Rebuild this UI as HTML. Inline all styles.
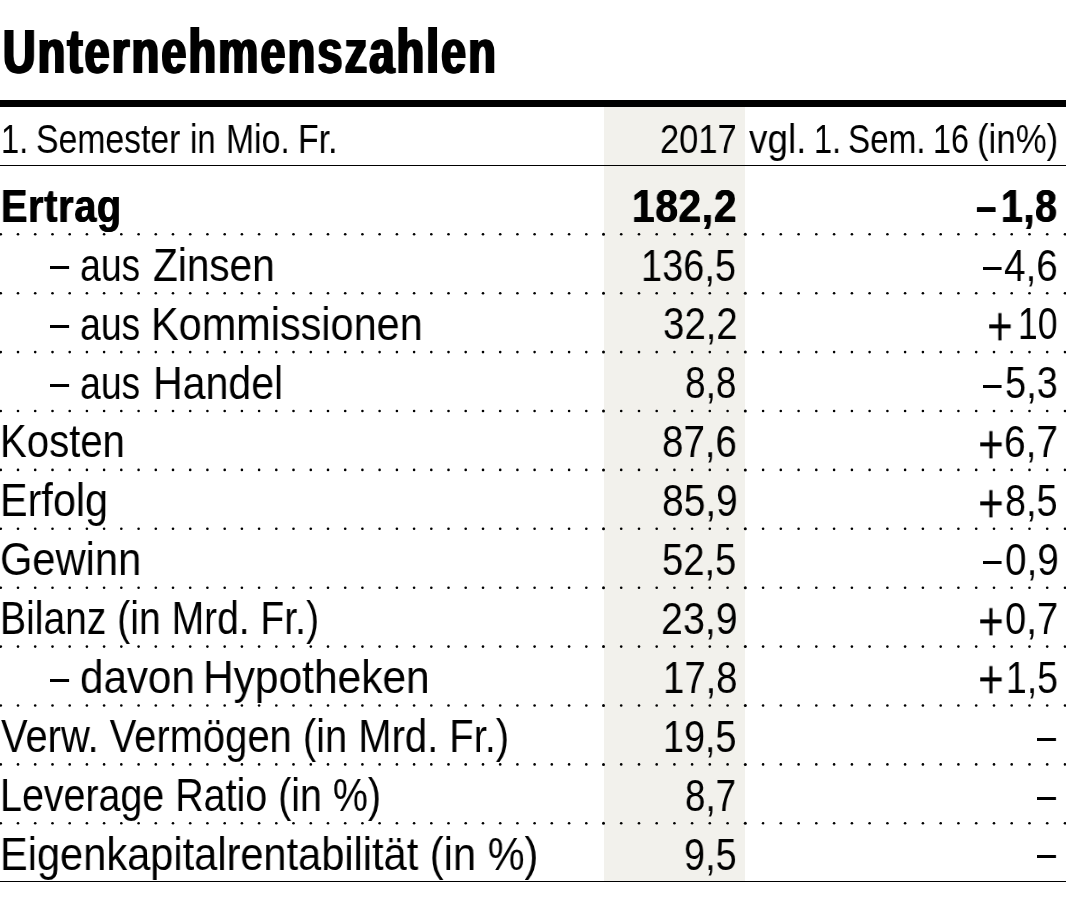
<!DOCTYPE html>
<html lang="de"><head><meta charset="utf-8"><title>Unternehmenszahlen</title>
<style>
html,body{margin:0;padding:0;background:#fff;}
body{width:1066px;height:906px;position:relative;overflow:hidden;font-family:"Liberation Sans",sans-serif;color:#000;}
.shade{position:absolute;left:604px;top:106px;width:141px;height:775.5px;background:#f2f1ec;}
.rule{position:absolute;left:0;width:1066px;background:#000;}
.t{will-change:transform;position:absolute;white-space:nowrap;line-height:1;transform-origin:0 0;margin:0;padding:0;}
.b{font-weight:bold;}
svg{position:absolute;left:0;top:0;}
</style></head><body>
<div class="shade"></div>
<div class="rule" style="top:100.1px;height:6.8px"></div>
<div class="rule" style="top:164.6px;height:1.5px"></div>
<div class="rule" style="top:880.65px;height:1.5px"></div>
<svg width="1066" height="906" viewBox="0 0 1066 906"><g fill="#000"><circle cx="0.8" cy="234.3" r="1.30"/><circle cx="18.0" cy="234.3" r="1.30"/><circle cx="35.2" cy="234.3" r="1.30"/><circle cx="52.5" cy="234.3" r="1.30"/><circle cx="69.7" cy="234.3" r="1.30"/><circle cx="86.9" cy="234.3" r="1.30"/><circle cx="104.1" cy="234.3" r="1.30"/><circle cx="121.3" cy="234.3" r="1.30"/><circle cx="138.6" cy="234.3" r="1.30"/><circle cx="155.8" cy="234.3" r="1.30"/><circle cx="173.0" cy="234.3" r="1.30"/><circle cx="190.2" cy="234.3" r="1.30"/><circle cx="207.4" cy="234.3" r="1.30"/><circle cx="224.7" cy="234.3" r="1.30"/><circle cx="241.9" cy="234.3" r="1.30"/><circle cx="259.1" cy="234.3" r="1.30"/><circle cx="276.3" cy="234.3" r="1.30"/><circle cx="293.5" cy="234.3" r="1.30"/><circle cx="310.8" cy="234.3" r="1.30"/><circle cx="328.0" cy="234.3" r="1.30"/><circle cx="345.2" cy="234.3" r="1.30"/><circle cx="362.4" cy="234.3" r="1.30"/><circle cx="379.6" cy="234.3" r="1.30"/><circle cx="396.9" cy="234.3" r="1.30"/><circle cx="414.1" cy="234.3" r="1.30"/><circle cx="431.3" cy="234.3" r="1.30"/><circle cx="448.5" cy="234.3" r="1.30"/><circle cx="465.7" cy="234.3" r="1.30"/><circle cx="483.0" cy="234.3" r="1.30"/><circle cx="500.2" cy="234.3" r="1.30"/><circle cx="517.4" cy="234.3" r="1.30"/><circle cx="534.6" cy="234.3" r="1.30"/><circle cx="551.8" cy="234.3" r="1.30"/><circle cx="569.1" cy="234.3" r="1.30"/><circle cx="586.3" cy="234.3" r="1.30"/><circle cx="603.5" cy="234.3" r="1.50"/><circle cx="621.2" cy="234.3" r="1.30"/><circle cx="639.0" cy="234.3" r="1.30"/><circle cx="656.7" cy="234.3" r="1.30"/><circle cx="674.4" cy="234.3" r="1.30"/><circle cx="692.1" cy="234.3" r="1.30"/><circle cx="709.8" cy="234.3" r="1.30"/><circle cx="727.6" cy="234.3" r="1.30"/><circle cx="745.3" cy="234.3" r="1.50"/><circle cx="763.1" cy="234.3" r="1.30"/><circle cx="780.8" cy="234.3" r="1.30"/><circle cx="798.6" cy="234.3" r="1.30"/><circle cx="816.3" cy="234.3" r="1.30"/><circle cx="834.1" cy="234.3" r="1.30"/><circle cx="851.9" cy="234.3" r="1.30"/><circle cx="869.6" cy="234.3" r="1.30"/><circle cx="887.4" cy="234.3" r="1.30"/><circle cx="905.1" cy="234.3" r="1.30"/><circle cx="922.9" cy="234.3" r="1.30"/><circle cx="940.7" cy="234.3" r="1.30"/><circle cx="958.4" cy="234.3" r="1.30"/><circle cx="976.2" cy="234.3" r="1.30"/><circle cx="994.0" cy="234.3" r="1.30"/><circle cx="1011.7" cy="234.3" r="1.30"/><circle cx="1029.5" cy="234.3" r="1.30"/><circle cx="1047.2" cy="234.3" r="1.30"/><circle cx="1065.0" cy="234.3" r="1.30"/><circle cx="0.8" cy="293.2" r="1.30"/><circle cx="18.0" cy="293.2" r="1.30"/><circle cx="35.2" cy="293.2" r="1.30"/><circle cx="52.5" cy="293.2" r="1.30"/><circle cx="69.7" cy="293.2" r="1.30"/><circle cx="86.9" cy="293.2" r="1.30"/><circle cx="104.1" cy="293.2" r="1.30"/><circle cx="121.3" cy="293.2" r="1.30"/><circle cx="138.6" cy="293.2" r="1.30"/><circle cx="155.8" cy="293.2" r="1.30"/><circle cx="173.0" cy="293.2" r="1.30"/><circle cx="190.2" cy="293.2" r="1.30"/><circle cx="207.4" cy="293.2" r="1.30"/><circle cx="224.7" cy="293.2" r="1.30"/><circle cx="241.9" cy="293.2" r="1.30"/><circle cx="259.1" cy="293.2" r="1.30"/><circle cx="276.3" cy="293.2" r="1.30"/><circle cx="293.5" cy="293.2" r="1.30"/><circle cx="310.8" cy="293.2" r="1.30"/><circle cx="328.0" cy="293.2" r="1.30"/><circle cx="345.2" cy="293.2" r="1.30"/><circle cx="362.4" cy="293.2" r="1.30"/><circle cx="379.6" cy="293.2" r="1.30"/><circle cx="396.9" cy="293.2" r="1.30"/><circle cx="414.1" cy="293.2" r="1.30"/><circle cx="431.3" cy="293.2" r="1.30"/><circle cx="448.5" cy="293.2" r="1.30"/><circle cx="465.7" cy="293.2" r="1.30"/><circle cx="483.0" cy="293.2" r="1.30"/><circle cx="500.2" cy="293.2" r="1.30"/><circle cx="517.4" cy="293.2" r="1.30"/><circle cx="534.6" cy="293.2" r="1.30"/><circle cx="551.8" cy="293.2" r="1.30"/><circle cx="569.1" cy="293.2" r="1.30"/><circle cx="586.3" cy="293.2" r="1.30"/><circle cx="603.5" cy="293.2" r="1.50"/><circle cx="621.2" cy="293.2" r="1.30"/><circle cx="639.0" cy="293.2" r="1.30"/><circle cx="656.7" cy="293.2" r="1.30"/><circle cx="674.4" cy="293.2" r="1.30"/><circle cx="692.1" cy="293.2" r="1.30"/><circle cx="709.8" cy="293.2" r="1.30"/><circle cx="727.6" cy="293.2" r="1.30"/><circle cx="745.3" cy="293.2" r="1.50"/><circle cx="763.1" cy="293.2" r="1.30"/><circle cx="780.8" cy="293.2" r="1.30"/><circle cx="798.6" cy="293.2" r="1.30"/><circle cx="816.3" cy="293.2" r="1.30"/><circle cx="834.1" cy="293.2" r="1.30"/><circle cx="851.9" cy="293.2" r="1.30"/><circle cx="869.6" cy="293.2" r="1.30"/><circle cx="887.4" cy="293.2" r="1.30"/><circle cx="905.1" cy="293.2" r="1.30"/><circle cx="922.9" cy="293.2" r="1.30"/><circle cx="940.7" cy="293.2" r="1.30"/><circle cx="958.4" cy="293.2" r="1.30"/><circle cx="976.2" cy="293.2" r="1.30"/><circle cx="994.0" cy="293.2" r="1.30"/><circle cx="1011.7" cy="293.2" r="1.30"/><circle cx="1029.5" cy="293.2" r="1.30"/><circle cx="1047.2" cy="293.2" r="1.30"/><circle cx="1065.0" cy="293.2" r="1.30"/><circle cx="0.8" cy="352.1" r="1.30"/><circle cx="18.0" cy="352.1" r="1.30"/><circle cx="35.2" cy="352.1" r="1.30"/><circle cx="52.5" cy="352.1" r="1.30"/><circle cx="69.7" cy="352.1" r="1.30"/><circle cx="86.9" cy="352.1" r="1.30"/><circle cx="104.1" cy="352.1" r="1.30"/><circle cx="121.3" cy="352.1" r="1.30"/><circle cx="138.6" cy="352.1" r="1.30"/><circle cx="155.8" cy="352.1" r="1.30"/><circle cx="173.0" cy="352.1" r="1.30"/><circle cx="190.2" cy="352.1" r="1.30"/><circle cx="207.4" cy="352.1" r="1.30"/><circle cx="224.7" cy="352.1" r="1.30"/><circle cx="241.9" cy="352.1" r="1.30"/><circle cx="259.1" cy="352.1" r="1.30"/><circle cx="276.3" cy="352.1" r="1.30"/><circle cx="293.5" cy="352.1" r="1.30"/><circle cx="310.8" cy="352.1" r="1.30"/><circle cx="328.0" cy="352.1" r="1.30"/><circle cx="345.2" cy="352.1" r="1.30"/><circle cx="362.4" cy="352.1" r="1.30"/><circle cx="379.6" cy="352.1" r="1.30"/><circle cx="396.9" cy="352.1" r="1.30"/><circle cx="414.1" cy="352.1" r="1.30"/><circle cx="431.3" cy="352.1" r="1.30"/><circle cx="448.5" cy="352.1" r="1.30"/><circle cx="465.7" cy="352.1" r="1.30"/><circle cx="483.0" cy="352.1" r="1.30"/><circle cx="500.2" cy="352.1" r="1.30"/><circle cx="517.4" cy="352.1" r="1.30"/><circle cx="534.6" cy="352.1" r="1.30"/><circle cx="551.8" cy="352.1" r="1.30"/><circle cx="569.1" cy="352.1" r="1.30"/><circle cx="586.3" cy="352.1" r="1.30"/><circle cx="603.5" cy="352.1" r="1.50"/><circle cx="621.2" cy="352.1" r="1.30"/><circle cx="639.0" cy="352.1" r="1.30"/><circle cx="656.7" cy="352.1" r="1.30"/><circle cx="674.4" cy="352.1" r="1.30"/><circle cx="692.1" cy="352.1" r="1.30"/><circle cx="709.8" cy="352.1" r="1.30"/><circle cx="727.6" cy="352.1" r="1.30"/><circle cx="745.3" cy="352.1" r="1.50"/><circle cx="763.1" cy="352.1" r="1.30"/><circle cx="780.8" cy="352.1" r="1.30"/><circle cx="798.6" cy="352.1" r="1.30"/><circle cx="816.3" cy="352.1" r="1.30"/><circle cx="834.1" cy="352.1" r="1.30"/><circle cx="851.9" cy="352.1" r="1.30"/><circle cx="869.6" cy="352.1" r="1.30"/><circle cx="887.4" cy="352.1" r="1.30"/><circle cx="905.1" cy="352.1" r="1.30"/><circle cx="922.9" cy="352.1" r="1.30"/><circle cx="940.7" cy="352.1" r="1.30"/><circle cx="958.4" cy="352.1" r="1.30"/><circle cx="976.2" cy="352.1" r="1.30"/><circle cx="994.0" cy="352.1" r="1.30"/><circle cx="1011.7" cy="352.1" r="1.30"/><circle cx="1029.5" cy="352.1" r="1.30"/><circle cx="1047.2" cy="352.1" r="1.30"/><circle cx="1065.0" cy="352.1" r="1.30"/><circle cx="0.8" cy="411.0" r="1.30"/><circle cx="18.0" cy="411.0" r="1.30"/><circle cx="35.2" cy="411.0" r="1.30"/><circle cx="52.5" cy="411.0" r="1.30"/><circle cx="69.7" cy="411.0" r="1.30"/><circle cx="86.9" cy="411.0" r="1.30"/><circle cx="104.1" cy="411.0" r="1.30"/><circle cx="121.3" cy="411.0" r="1.30"/><circle cx="138.6" cy="411.0" r="1.30"/><circle cx="155.8" cy="411.0" r="1.30"/><circle cx="173.0" cy="411.0" r="1.30"/><circle cx="190.2" cy="411.0" r="1.30"/><circle cx="207.4" cy="411.0" r="1.30"/><circle cx="224.7" cy="411.0" r="1.30"/><circle cx="241.9" cy="411.0" r="1.30"/><circle cx="259.1" cy="411.0" r="1.30"/><circle cx="276.3" cy="411.0" r="1.30"/><circle cx="293.5" cy="411.0" r="1.30"/><circle cx="310.8" cy="411.0" r="1.30"/><circle cx="328.0" cy="411.0" r="1.30"/><circle cx="345.2" cy="411.0" r="1.30"/><circle cx="362.4" cy="411.0" r="1.30"/><circle cx="379.6" cy="411.0" r="1.30"/><circle cx="396.9" cy="411.0" r="1.30"/><circle cx="414.1" cy="411.0" r="1.30"/><circle cx="431.3" cy="411.0" r="1.30"/><circle cx="448.5" cy="411.0" r="1.30"/><circle cx="465.7" cy="411.0" r="1.30"/><circle cx="483.0" cy="411.0" r="1.30"/><circle cx="500.2" cy="411.0" r="1.30"/><circle cx="517.4" cy="411.0" r="1.30"/><circle cx="534.6" cy="411.0" r="1.30"/><circle cx="551.8" cy="411.0" r="1.30"/><circle cx="569.1" cy="411.0" r="1.30"/><circle cx="586.3" cy="411.0" r="1.30"/><circle cx="603.5" cy="411.0" r="1.50"/><circle cx="621.2" cy="411.0" r="1.30"/><circle cx="639.0" cy="411.0" r="1.30"/><circle cx="656.7" cy="411.0" r="1.30"/><circle cx="674.4" cy="411.0" r="1.30"/><circle cx="692.1" cy="411.0" r="1.30"/><circle cx="709.8" cy="411.0" r="1.30"/><circle cx="727.6" cy="411.0" r="1.30"/><circle cx="745.3" cy="411.0" r="1.50"/><circle cx="763.1" cy="411.0" r="1.30"/><circle cx="780.8" cy="411.0" r="1.30"/><circle cx="798.6" cy="411.0" r="1.30"/><circle cx="816.3" cy="411.0" r="1.30"/><circle cx="834.1" cy="411.0" r="1.30"/><circle cx="851.9" cy="411.0" r="1.30"/><circle cx="869.6" cy="411.0" r="1.30"/><circle cx="887.4" cy="411.0" r="1.30"/><circle cx="905.1" cy="411.0" r="1.30"/><circle cx="922.9" cy="411.0" r="1.30"/><circle cx="940.7" cy="411.0" r="1.30"/><circle cx="958.4" cy="411.0" r="1.30"/><circle cx="976.2" cy="411.0" r="1.30"/><circle cx="994.0" cy="411.0" r="1.30"/><circle cx="1011.7" cy="411.0" r="1.30"/><circle cx="1029.5" cy="411.0" r="1.30"/><circle cx="1047.2" cy="411.0" r="1.30"/><circle cx="1065.0" cy="411.0" r="1.30"/><circle cx="0.8" cy="469.9" r="1.30"/><circle cx="18.0" cy="469.9" r="1.30"/><circle cx="35.2" cy="469.9" r="1.30"/><circle cx="52.5" cy="469.9" r="1.30"/><circle cx="69.7" cy="469.9" r="1.30"/><circle cx="86.9" cy="469.9" r="1.30"/><circle cx="104.1" cy="469.9" r="1.30"/><circle cx="121.3" cy="469.9" r="1.30"/><circle cx="138.6" cy="469.9" r="1.30"/><circle cx="155.8" cy="469.9" r="1.30"/><circle cx="173.0" cy="469.9" r="1.30"/><circle cx="190.2" cy="469.9" r="1.30"/><circle cx="207.4" cy="469.9" r="1.30"/><circle cx="224.7" cy="469.9" r="1.30"/><circle cx="241.9" cy="469.9" r="1.30"/><circle cx="259.1" cy="469.9" r="1.30"/><circle cx="276.3" cy="469.9" r="1.30"/><circle cx="293.5" cy="469.9" r="1.30"/><circle cx="310.8" cy="469.9" r="1.30"/><circle cx="328.0" cy="469.9" r="1.30"/><circle cx="345.2" cy="469.9" r="1.30"/><circle cx="362.4" cy="469.9" r="1.30"/><circle cx="379.6" cy="469.9" r="1.30"/><circle cx="396.9" cy="469.9" r="1.30"/><circle cx="414.1" cy="469.9" r="1.30"/><circle cx="431.3" cy="469.9" r="1.30"/><circle cx="448.5" cy="469.9" r="1.30"/><circle cx="465.7" cy="469.9" r="1.30"/><circle cx="483.0" cy="469.9" r="1.30"/><circle cx="500.2" cy="469.9" r="1.30"/><circle cx="517.4" cy="469.9" r="1.30"/><circle cx="534.6" cy="469.9" r="1.30"/><circle cx="551.8" cy="469.9" r="1.30"/><circle cx="569.1" cy="469.9" r="1.30"/><circle cx="586.3" cy="469.9" r="1.30"/><circle cx="603.5" cy="469.9" r="1.50"/><circle cx="621.2" cy="469.9" r="1.30"/><circle cx="639.0" cy="469.9" r="1.30"/><circle cx="656.7" cy="469.9" r="1.30"/><circle cx="674.4" cy="469.9" r="1.30"/><circle cx="692.1" cy="469.9" r="1.30"/><circle cx="709.8" cy="469.9" r="1.30"/><circle cx="727.6" cy="469.9" r="1.30"/><circle cx="745.3" cy="469.9" r="1.50"/><circle cx="763.1" cy="469.9" r="1.30"/><circle cx="780.8" cy="469.9" r="1.30"/><circle cx="798.6" cy="469.9" r="1.30"/><circle cx="816.3" cy="469.9" r="1.30"/><circle cx="834.1" cy="469.9" r="1.30"/><circle cx="851.9" cy="469.9" r="1.30"/><circle cx="869.6" cy="469.9" r="1.30"/><circle cx="887.4" cy="469.9" r="1.30"/><circle cx="905.1" cy="469.9" r="1.30"/><circle cx="922.9" cy="469.9" r="1.30"/><circle cx="940.7" cy="469.9" r="1.30"/><circle cx="958.4" cy="469.9" r="1.30"/><circle cx="976.2" cy="469.9" r="1.30"/><circle cx="994.0" cy="469.9" r="1.30"/><circle cx="1011.7" cy="469.9" r="1.30"/><circle cx="1029.5" cy="469.9" r="1.30"/><circle cx="1047.2" cy="469.9" r="1.30"/><circle cx="1065.0" cy="469.9" r="1.30"/><circle cx="0.8" cy="528.8" r="1.30"/><circle cx="18.0" cy="528.8" r="1.30"/><circle cx="35.2" cy="528.8" r="1.30"/><circle cx="52.5" cy="528.8" r="1.30"/><circle cx="69.7" cy="528.8" r="1.30"/><circle cx="86.9" cy="528.8" r="1.30"/><circle cx="104.1" cy="528.8" r="1.30"/><circle cx="121.3" cy="528.8" r="1.30"/><circle cx="138.6" cy="528.8" r="1.30"/><circle cx="155.8" cy="528.8" r="1.30"/><circle cx="173.0" cy="528.8" r="1.30"/><circle cx="190.2" cy="528.8" r="1.30"/><circle cx="207.4" cy="528.8" r="1.30"/><circle cx="224.7" cy="528.8" r="1.30"/><circle cx="241.9" cy="528.8" r="1.30"/><circle cx="259.1" cy="528.8" r="1.30"/><circle cx="276.3" cy="528.8" r="1.30"/><circle cx="293.5" cy="528.8" r="1.30"/><circle cx="310.8" cy="528.8" r="1.30"/><circle cx="328.0" cy="528.8" r="1.30"/><circle cx="345.2" cy="528.8" r="1.30"/><circle cx="362.4" cy="528.8" r="1.30"/><circle cx="379.6" cy="528.8" r="1.30"/><circle cx="396.9" cy="528.8" r="1.30"/><circle cx="414.1" cy="528.8" r="1.30"/><circle cx="431.3" cy="528.8" r="1.30"/><circle cx="448.5" cy="528.8" r="1.30"/><circle cx="465.7" cy="528.8" r="1.30"/><circle cx="483.0" cy="528.8" r="1.30"/><circle cx="500.2" cy="528.8" r="1.30"/><circle cx="517.4" cy="528.8" r="1.30"/><circle cx="534.6" cy="528.8" r="1.30"/><circle cx="551.8" cy="528.8" r="1.30"/><circle cx="569.1" cy="528.8" r="1.30"/><circle cx="586.3" cy="528.8" r="1.30"/><circle cx="603.5" cy="528.8" r="1.50"/><circle cx="621.2" cy="528.8" r="1.30"/><circle cx="639.0" cy="528.8" r="1.30"/><circle cx="656.7" cy="528.8" r="1.30"/><circle cx="674.4" cy="528.8" r="1.30"/><circle cx="692.1" cy="528.8" r="1.30"/><circle cx="709.8" cy="528.8" r="1.30"/><circle cx="727.6" cy="528.8" r="1.30"/><circle cx="745.3" cy="528.8" r="1.50"/><circle cx="763.1" cy="528.8" r="1.30"/><circle cx="780.8" cy="528.8" r="1.30"/><circle cx="798.6" cy="528.8" r="1.30"/><circle cx="816.3" cy="528.8" r="1.30"/><circle cx="834.1" cy="528.8" r="1.30"/><circle cx="851.9" cy="528.8" r="1.30"/><circle cx="869.6" cy="528.8" r="1.30"/><circle cx="887.4" cy="528.8" r="1.30"/><circle cx="905.1" cy="528.8" r="1.30"/><circle cx="922.9" cy="528.8" r="1.30"/><circle cx="940.7" cy="528.8" r="1.30"/><circle cx="958.4" cy="528.8" r="1.30"/><circle cx="976.2" cy="528.8" r="1.30"/><circle cx="994.0" cy="528.8" r="1.30"/><circle cx="1011.7" cy="528.8" r="1.30"/><circle cx="1029.5" cy="528.8" r="1.30"/><circle cx="1047.2" cy="528.8" r="1.30"/><circle cx="1065.0" cy="528.8" r="1.30"/><circle cx="0.8" cy="587.7" r="1.30"/><circle cx="18.0" cy="587.7" r="1.30"/><circle cx="35.2" cy="587.7" r="1.30"/><circle cx="52.5" cy="587.7" r="1.30"/><circle cx="69.7" cy="587.7" r="1.30"/><circle cx="86.9" cy="587.7" r="1.30"/><circle cx="104.1" cy="587.7" r="1.30"/><circle cx="121.3" cy="587.7" r="1.30"/><circle cx="138.6" cy="587.7" r="1.30"/><circle cx="155.8" cy="587.7" r="1.30"/><circle cx="173.0" cy="587.7" r="1.30"/><circle cx="190.2" cy="587.7" r="1.30"/><circle cx="207.4" cy="587.7" r="1.30"/><circle cx="224.7" cy="587.7" r="1.30"/><circle cx="241.9" cy="587.7" r="1.30"/><circle cx="259.1" cy="587.7" r="1.30"/><circle cx="276.3" cy="587.7" r="1.30"/><circle cx="293.5" cy="587.7" r="1.30"/><circle cx="310.8" cy="587.7" r="1.30"/><circle cx="328.0" cy="587.7" r="1.30"/><circle cx="345.2" cy="587.7" r="1.30"/><circle cx="362.4" cy="587.7" r="1.30"/><circle cx="379.6" cy="587.7" r="1.30"/><circle cx="396.9" cy="587.7" r="1.30"/><circle cx="414.1" cy="587.7" r="1.30"/><circle cx="431.3" cy="587.7" r="1.30"/><circle cx="448.5" cy="587.7" r="1.30"/><circle cx="465.7" cy="587.7" r="1.30"/><circle cx="483.0" cy="587.7" r="1.30"/><circle cx="500.2" cy="587.7" r="1.30"/><circle cx="517.4" cy="587.7" r="1.30"/><circle cx="534.6" cy="587.7" r="1.30"/><circle cx="551.8" cy="587.7" r="1.30"/><circle cx="569.1" cy="587.7" r="1.30"/><circle cx="586.3" cy="587.7" r="1.30"/><circle cx="603.5" cy="587.7" r="1.50"/><circle cx="621.2" cy="587.7" r="1.30"/><circle cx="639.0" cy="587.7" r="1.30"/><circle cx="656.7" cy="587.7" r="1.30"/><circle cx="674.4" cy="587.7" r="1.30"/><circle cx="692.1" cy="587.7" r="1.30"/><circle cx="709.8" cy="587.7" r="1.30"/><circle cx="727.6" cy="587.7" r="1.30"/><circle cx="745.3" cy="587.7" r="1.50"/><circle cx="763.1" cy="587.7" r="1.30"/><circle cx="780.8" cy="587.7" r="1.30"/><circle cx="798.6" cy="587.7" r="1.30"/><circle cx="816.3" cy="587.7" r="1.30"/><circle cx="834.1" cy="587.7" r="1.30"/><circle cx="851.9" cy="587.7" r="1.30"/><circle cx="869.6" cy="587.7" r="1.30"/><circle cx="887.4" cy="587.7" r="1.30"/><circle cx="905.1" cy="587.7" r="1.30"/><circle cx="922.9" cy="587.7" r="1.30"/><circle cx="940.7" cy="587.7" r="1.30"/><circle cx="958.4" cy="587.7" r="1.30"/><circle cx="976.2" cy="587.7" r="1.30"/><circle cx="994.0" cy="587.7" r="1.30"/><circle cx="1011.7" cy="587.7" r="1.30"/><circle cx="1029.5" cy="587.7" r="1.30"/><circle cx="1047.2" cy="587.7" r="1.30"/><circle cx="1065.0" cy="587.7" r="1.30"/><circle cx="0.8" cy="646.6" r="1.30"/><circle cx="18.0" cy="646.6" r="1.30"/><circle cx="35.2" cy="646.6" r="1.30"/><circle cx="52.5" cy="646.6" r="1.30"/><circle cx="69.7" cy="646.6" r="1.30"/><circle cx="86.9" cy="646.6" r="1.30"/><circle cx="104.1" cy="646.6" r="1.30"/><circle cx="121.3" cy="646.6" r="1.30"/><circle cx="138.6" cy="646.6" r="1.30"/><circle cx="155.8" cy="646.6" r="1.30"/><circle cx="173.0" cy="646.6" r="1.30"/><circle cx="190.2" cy="646.6" r="1.30"/><circle cx="207.4" cy="646.6" r="1.30"/><circle cx="224.7" cy="646.6" r="1.30"/><circle cx="241.9" cy="646.6" r="1.30"/><circle cx="259.1" cy="646.6" r="1.30"/><circle cx="276.3" cy="646.6" r="1.30"/><circle cx="293.5" cy="646.6" r="1.30"/><circle cx="310.8" cy="646.6" r="1.30"/><circle cx="328.0" cy="646.6" r="1.30"/><circle cx="345.2" cy="646.6" r="1.30"/><circle cx="362.4" cy="646.6" r="1.30"/><circle cx="379.6" cy="646.6" r="1.30"/><circle cx="396.9" cy="646.6" r="1.30"/><circle cx="414.1" cy="646.6" r="1.30"/><circle cx="431.3" cy="646.6" r="1.30"/><circle cx="448.5" cy="646.6" r="1.30"/><circle cx="465.7" cy="646.6" r="1.30"/><circle cx="483.0" cy="646.6" r="1.30"/><circle cx="500.2" cy="646.6" r="1.30"/><circle cx="517.4" cy="646.6" r="1.30"/><circle cx="534.6" cy="646.6" r="1.30"/><circle cx="551.8" cy="646.6" r="1.30"/><circle cx="569.1" cy="646.6" r="1.30"/><circle cx="586.3" cy="646.6" r="1.30"/><circle cx="603.5" cy="646.6" r="1.50"/><circle cx="621.2" cy="646.6" r="1.30"/><circle cx="639.0" cy="646.6" r="1.30"/><circle cx="656.7" cy="646.6" r="1.30"/><circle cx="674.4" cy="646.6" r="1.30"/><circle cx="692.1" cy="646.6" r="1.30"/><circle cx="709.8" cy="646.6" r="1.30"/><circle cx="727.6" cy="646.6" r="1.30"/><circle cx="745.3" cy="646.6" r="1.50"/><circle cx="763.1" cy="646.6" r="1.30"/><circle cx="780.8" cy="646.6" r="1.30"/><circle cx="798.6" cy="646.6" r="1.30"/><circle cx="816.3" cy="646.6" r="1.30"/><circle cx="834.1" cy="646.6" r="1.30"/><circle cx="851.9" cy="646.6" r="1.30"/><circle cx="869.6" cy="646.6" r="1.30"/><circle cx="887.4" cy="646.6" r="1.30"/><circle cx="905.1" cy="646.6" r="1.30"/><circle cx="922.9" cy="646.6" r="1.30"/><circle cx="940.7" cy="646.6" r="1.30"/><circle cx="958.4" cy="646.6" r="1.30"/><circle cx="976.2" cy="646.6" r="1.30"/><circle cx="994.0" cy="646.6" r="1.30"/><circle cx="1011.7" cy="646.6" r="1.30"/><circle cx="1029.5" cy="646.6" r="1.30"/><circle cx="1047.2" cy="646.6" r="1.30"/><circle cx="1065.0" cy="646.6" r="1.30"/><circle cx="0.8" cy="705.5" r="1.30"/><circle cx="18.0" cy="705.5" r="1.30"/><circle cx="35.2" cy="705.5" r="1.30"/><circle cx="52.5" cy="705.5" r="1.30"/><circle cx="69.7" cy="705.5" r="1.30"/><circle cx="86.9" cy="705.5" r="1.30"/><circle cx="104.1" cy="705.5" r="1.30"/><circle cx="121.3" cy="705.5" r="1.30"/><circle cx="138.6" cy="705.5" r="1.30"/><circle cx="155.8" cy="705.5" r="1.30"/><circle cx="173.0" cy="705.5" r="1.30"/><circle cx="190.2" cy="705.5" r="1.30"/><circle cx="207.4" cy="705.5" r="1.30"/><circle cx="224.7" cy="705.5" r="1.30"/><circle cx="241.9" cy="705.5" r="1.30"/><circle cx="259.1" cy="705.5" r="1.30"/><circle cx="276.3" cy="705.5" r="1.30"/><circle cx="293.5" cy="705.5" r="1.30"/><circle cx="310.8" cy="705.5" r="1.30"/><circle cx="328.0" cy="705.5" r="1.30"/><circle cx="345.2" cy="705.5" r="1.30"/><circle cx="362.4" cy="705.5" r="1.30"/><circle cx="379.6" cy="705.5" r="1.30"/><circle cx="396.9" cy="705.5" r="1.30"/><circle cx="414.1" cy="705.5" r="1.30"/><circle cx="431.3" cy="705.5" r="1.30"/><circle cx="448.5" cy="705.5" r="1.30"/><circle cx="465.7" cy="705.5" r="1.30"/><circle cx="483.0" cy="705.5" r="1.30"/><circle cx="500.2" cy="705.5" r="1.30"/><circle cx="517.4" cy="705.5" r="1.30"/><circle cx="534.6" cy="705.5" r="1.30"/><circle cx="551.8" cy="705.5" r="1.30"/><circle cx="569.1" cy="705.5" r="1.30"/><circle cx="586.3" cy="705.5" r="1.30"/><circle cx="603.5" cy="705.5" r="1.50"/><circle cx="621.2" cy="705.5" r="1.30"/><circle cx="639.0" cy="705.5" r="1.30"/><circle cx="656.7" cy="705.5" r="1.30"/><circle cx="674.4" cy="705.5" r="1.30"/><circle cx="692.1" cy="705.5" r="1.30"/><circle cx="709.8" cy="705.5" r="1.30"/><circle cx="727.6" cy="705.5" r="1.30"/><circle cx="745.3" cy="705.5" r="1.50"/><circle cx="763.1" cy="705.5" r="1.30"/><circle cx="780.8" cy="705.5" r="1.30"/><circle cx="798.6" cy="705.5" r="1.30"/><circle cx="816.3" cy="705.5" r="1.30"/><circle cx="834.1" cy="705.5" r="1.30"/><circle cx="851.9" cy="705.5" r="1.30"/><circle cx="869.6" cy="705.5" r="1.30"/><circle cx="887.4" cy="705.5" r="1.30"/><circle cx="905.1" cy="705.5" r="1.30"/><circle cx="922.9" cy="705.5" r="1.30"/><circle cx="940.7" cy="705.5" r="1.30"/><circle cx="958.4" cy="705.5" r="1.30"/><circle cx="976.2" cy="705.5" r="1.30"/><circle cx="994.0" cy="705.5" r="1.30"/><circle cx="1011.7" cy="705.5" r="1.30"/><circle cx="1029.5" cy="705.5" r="1.30"/><circle cx="1047.2" cy="705.5" r="1.30"/><circle cx="1065.0" cy="705.5" r="1.30"/><circle cx="0.8" cy="764.4" r="1.30"/><circle cx="18.0" cy="764.4" r="1.30"/><circle cx="35.2" cy="764.4" r="1.30"/><circle cx="52.5" cy="764.4" r="1.30"/><circle cx="69.7" cy="764.4" r="1.30"/><circle cx="86.9" cy="764.4" r="1.30"/><circle cx="104.1" cy="764.4" r="1.30"/><circle cx="121.3" cy="764.4" r="1.30"/><circle cx="138.6" cy="764.4" r="1.30"/><circle cx="155.8" cy="764.4" r="1.30"/><circle cx="173.0" cy="764.4" r="1.30"/><circle cx="190.2" cy="764.4" r="1.30"/><circle cx="207.4" cy="764.4" r="1.30"/><circle cx="224.7" cy="764.4" r="1.30"/><circle cx="241.9" cy="764.4" r="1.30"/><circle cx="259.1" cy="764.4" r="1.30"/><circle cx="276.3" cy="764.4" r="1.30"/><circle cx="293.5" cy="764.4" r="1.30"/><circle cx="310.8" cy="764.4" r="1.30"/><circle cx="328.0" cy="764.4" r="1.30"/><circle cx="345.2" cy="764.4" r="1.30"/><circle cx="362.4" cy="764.4" r="1.30"/><circle cx="379.6" cy="764.4" r="1.30"/><circle cx="396.9" cy="764.4" r="1.30"/><circle cx="414.1" cy="764.4" r="1.30"/><circle cx="431.3" cy="764.4" r="1.30"/><circle cx="448.5" cy="764.4" r="1.30"/><circle cx="465.7" cy="764.4" r="1.30"/><circle cx="483.0" cy="764.4" r="1.30"/><circle cx="500.2" cy="764.4" r="1.30"/><circle cx="517.4" cy="764.4" r="1.30"/><circle cx="534.6" cy="764.4" r="1.30"/><circle cx="551.8" cy="764.4" r="1.30"/><circle cx="569.1" cy="764.4" r="1.30"/><circle cx="586.3" cy="764.4" r="1.30"/><circle cx="603.5" cy="764.4" r="1.50"/><circle cx="621.2" cy="764.4" r="1.30"/><circle cx="639.0" cy="764.4" r="1.30"/><circle cx="656.7" cy="764.4" r="1.30"/><circle cx="674.4" cy="764.4" r="1.30"/><circle cx="692.1" cy="764.4" r="1.30"/><circle cx="709.8" cy="764.4" r="1.30"/><circle cx="727.6" cy="764.4" r="1.30"/><circle cx="745.3" cy="764.4" r="1.50"/><circle cx="763.1" cy="764.4" r="1.30"/><circle cx="780.8" cy="764.4" r="1.30"/><circle cx="798.6" cy="764.4" r="1.30"/><circle cx="816.3" cy="764.4" r="1.30"/><circle cx="834.1" cy="764.4" r="1.30"/><circle cx="851.9" cy="764.4" r="1.30"/><circle cx="869.6" cy="764.4" r="1.30"/><circle cx="887.4" cy="764.4" r="1.30"/><circle cx="905.1" cy="764.4" r="1.30"/><circle cx="922.9" cy="764.4" r="1.30"/><circle cx="940.7" cy="764.4" r="1.30"/><circle cx="958.4" cy="764.4" r="1.30"/><circle cx="976.2" cy="764.4" r="1.30"/><circle cx="994.0" cy="764.4" r="1.30"/><circle cx="1011.7" cy="764.4" r="1.30"/><circle cx="1029.5" cy="764.4" r="1.30"/><circle cx="1047.2" cy="764.4" r="1.30"/><circle cx="1065.0" cy="764.4" r="1.30"/><circle cx="0.8" cy="823.3" r="1.30"/><circle cx="18.0" cy="823.3" r="1.30"/><circle cx="35.2" cy="823.3" r="1.30"/><circle cx="52.5" cy="823.3" r="1.30"/><circle cx="69.7" cy="823.3" r="1.30"/><circle cx="86.9" cy="823.3" r="1.30"/><circle cx="104.1" cy="823.3" r="1.30"/><circle cx="121.3" cy="823.3" r="1.30"/><circle cx="138.6" cy="823.3" r="1.30"/><circle cx="155.8" cy="823.3" r="1.30"/><circle cx="173.0" cy="823.3" r="1.30"/><circle cx="190.2" cy="823.3" r="1.30"/><circle cx="207.4" cy="823.3" r="1.30"/><circle cx="224.7" cy="823.3" r="1.30"/><circle cx="241.9" cy="823.3" r="1.30"/><circle cx="259.1" cy="823.3" r="1.30"/><circle cx="276.3" cy="823.3" r="1.30"/><circle cx="293.5" cy="823.3" r="1.30"/><circle cx="310.8" cy="823.3" r="1.30"/><circle cx="328.0" cy="823.3" r="1.30"/><circle cx="345.2" cy="823.3" r="1.30"/><circle cx="362.4" cy="823.3" r="1.30"/><circle cx="379.6" cy="823.3" r="1.30"/><circle cx="396.9" cy="823.3" r="1.30"/><circle cx="414.1" cy="823.3" r="1.30"/><circle cx="431.3" cy="823.3" r="1.30"/><circle cx="448.5" cy="823.3" r="1.30"/><circle cx="465.7" cy="823.3" r="1.30"/><circle cx="483.0" cy="823.3" r="1.30"/><circle cx="500.2" cy="823.3" r="1.30"/><circle cx="517.4" cy="823.3" r="1.30"/><circle cx="534.6" cy="823.3" r="1.30"/><circle cx="551.8" cy="823.3" r="1.30"/><circle cx="569.1" cy="823.3" r="1.30"/><circle cx="586.3" cy="823.3" r="1.30"/><circle cx="603.5" cy="823.3" r="1.50"/><circle cx="621.2" cy="823.3" r="1.30"/><circle cx="639.0" cy="823.3" r="1.30"/><circle cx="656.7" cy="823.3" r="1.30"/><circle cx="674.4" cy="823.3" r="1.30"/><circle cx="692.1" cy="823.3" r="1.30"/><circle cx="709.8" cy="823.3" r="1.30"/><circle cx="727.6" cy="823.3" r="1.30"/><circle cx="745.3" cy="823.3" r="1.50"/><circle cx="763.1" cy="823.3" r="1.30"/><circle cx="780.8" cy="823.3" r="1.30"/><circle cx="798.6" cy="823.3" r="1.30"/><circle cx="816.3" cy="823.3" r="1.30"/><circle cx="834.1" cy="823.3" r="1.30"/><circle cx="851.9" cy="823.3" r="1.30"/><circle cx="869.6" cy="823.3" r="1.30"/><circle cx="887.4" cy="823.3" r="1.30"/><circle cx="905.1" cy="823.3" r="1.30"/><circle cx="922.9" cy="823.3" r="1.30"/><circle cx="940.7" cy="823.3" r="1.30"/><circle cx="958.4" cy="823.3" r="1.30"/><circle cx="976.2" cy="823.3" r="1.30"/><circle cx="994.0" cy="823.3" r="1.30"/><circle cx="1011.7" cy="823.3" r="1.30"/><circle cx="1029.5" cy="823.3" r="1.30"/><circle cx="1047.2" cy="823.3" r="1.30"/><circle cx="1065.0" cy="823.3" r="1.30"/></g></svg>
<div class="t b" style="left:2.57px;top:19.50px;font-size:63.20px;transform:scaleX(0.7124);text-shadow:1.70px 0 0 #000,-1.70px 0 0 #000;letter-spacing:3.10px">Unternehmenszahlen</div>
<div class="t" style="left:0.81px;top:118.68px;font-size:40.90px;transform:scaleX(0.7966)">1.</div>
<div class="t" style="left:35.57px;top:118.68px;font-size:40.90px;transform:scaleX(0.8254)">Semester</div>
<div class="t" style="left:189.88px;top:118.68px;font-size:40.90px;transform:scaleX(0.8083)">in</div>
<div class="t" style="left:226.33px;top:118.68px;font-size:40.90px;transform:scaleX(0.8238)">Mio.</div>
<div class="t" style="left:297.71px;top:118.68px;font-size:40.90px;transform:scaleX(0.8297)">Fr.</div>
<div class="t" style="left:660.31px;top:118.68px;font-size:40.90px;transform:scaleX(0.8427)">2017</div>
<div class="t" style="left:749.20px;top:118.68px;font-size:40.90px;transform:scaleX(0.9026)">vgl.</div>
<div class="t" style="left:814.12px;top:118.68px;font-size:40.90px;transform:scaleX(0.7930)">1.</div>
<div class="t" style="left:847.79px;top:118.68px;font-size:40.90px;transform:scaleX(0.8125)">Sem.</div>
<div class="t" style="left:933.34px;top:118.68px;font-size:40.90px;transform:scaleX(0.7879)">16</div>
<div class="t" style="left:976.80px;top:118.68px;font-size:40.90px;transform:scaleX(0.8518)">(in%)</div>
<div class="t b" style="left:0.85px;top:182.88px;font-size:46.10px;transform:scaleX(0.8599);text-shadow:0.50px 0 0 #000,-0.50px 0 0 #000;letter-spacing:0.80px">Ertrag</div>
<div class="t b" style="left:632.08px;top:182.88px;font-size:46.10px;transform:scaleX(0.8808);text-shadow:0.50px 0 0 #000,-0.50px 0 0 #000;letter-spacing:0.80px">182,2</div>
<div class="t b" style="left:976.14px;top:183.08px;font-size:46.10px;transform:scaleX(0.7967);text-shadow:0.30px 0 0 #000,-0.30px 0 0 #000">–</div>
<div class="t b" style="left:1001.02px;top:182.88px;font-size:46.10px;transform:scaleX(0.8510);text-shadow:0.50px 0 0 #000,-0.50px 0 0 #000;letter-spacing:0.80px">1,8</div>
<div class="t" style="left:50.00px;top:241.44px;font-size:45.20px;transform:scaleX(0.7538)">–</div>
<div class="t" style="left:80.39px;top:241.78px;font-size:46.10px;transform:scaleX(0.8095)">aus</div>
<div class="t" style="left:152.62px;top:241.78px;font-size:46.10px;transform:scaleX(0.8796)">Zinsen</div>
<div class="t" style="left:640.98px;top:242.54px;font-size:45.20px;transform:scaleX(0.8399)">136,5</div>
<div class="t" style="left:983.00px;top:241.74px;font-size:45.20px;transform:scaleX(0.7385)">–</div>
<div class="t" style="left:1004.04px;top:242.54px;font-size:45.20px;transform:scaleX(0.8552)">4,6</div>
<div class="t" style="left:50.00px;top:300.34px;font-size:45.20px;transform:scaleX(0.7538)">–</div>
<div class="t" style="left:80.39px;top:300.68px;font-size:46.10px;transform:scaleX(0.8095)">aus</div>
<div class="t" style="left:151.30px;top:300.68px;font-size:46.10px;transform:scaleX(0.8987)">Kommissionen</div>
<div class="t" style="left:662.55px;top:301.44px;font-size:45.20px;transform:scaleX(0.8501)">32,2</div>
<div class="t" style="left:986.94px;top:299.05px;font-size:45.20px;transform:scale(0.9783,1.2273)">+</div>
<div class="t" style="left:1018.45px;top:301.44px;font-size:45.20px;transform:scaleX(0.7847)">10</div>
<div class="t" style="left:50.00px;top:359.24px;font-size:45.20px;transform:scaleX(0.7538)">–</div>
<div class="t" style="left:80.39px;top:359.58px;font-size:46.10px;transform:scaleX(0.8095)">aus</div>
<div class="t" style="left:152.53px;top:359.58px;font-size:46.10px;transform:scaleX(0.8912)">Handel</div>
<div class="t" style="left:685.08px;top:360.34px;font-size:45.20px;transform:scaleX(0.8173)">8,8</div>
<div class="t" style="left:983.00px;top:359.54px;font-size:45.20px;transform:scaleX(0.7385)">–</div>
<div class="t" style="left:1004.66px;top:360.34px;font-size:45.20px;transform:scaleX(0.8404)">5,3</div>
<div class="t" style="left:0.39px;top:418.48px;font-size:46.10px;transform:scaleX(0.8704)">Kosten</div>
<div class="t" style="left:662.15px;top:419.24px;font-size:45.20px;transform:scaleX(0.8518)">87,6</div>
<div class="t" style="left:978.14px;top:416.85px;font-size:45.20px;transform:scale(0.9783,1.2273)">+</div>
<div class="t" style="left:1004.08px;top:419.24px;font-size:45.20px;transform:scaleX(0.8588)">6,7</div>
<div class="t" style="left:0.31px;top:477.38px;font-size:46.10px;transform:scaleX(0.8974)">Erfolg</div>
<div class="t" style="left:662.14px;top:478.14px;font-size:45.20px;transform:scaleX(0.8619)">85,9</div>
<div class="t" style="left:978.14px;top:475.75px;font-size:45.20px;transform:scale(0.9783,1.2273)">+</div>
<div class="t" style="left:1004.96px;top:478.14px;font-size:45.20px;transform:scaleX(0.8355)">8,5</div>
<div class="t" style="left:0.19px;top:536.28px;font-size:46.10px;transform:scaleX(0.9034)">Gewinn</div>
<div class="t" style="left:662.16px;top:537.04px;font-size:45.20px;transform:scaleX(0.8448)">52,5</div>
<div class="t" style="left:983.00px;top:536.24px;font-size:45.20px;transform:scaleX(0.7385)">–</div>
<div class="t" style="left:1005.04px;top:537.04px;font-size:45.20px;transform:scaleX(0.8562)">0,9</div>
<div class="t" style="left:0.46px;top:595.18px;font-size:46.10px;transform:scaleX(0.8474)">Bilanz (in Mrd. Fr.)</div>
<div class="t" style="left:661.26px;top:595.94px;font-size:45.20px;transform:scaleX(0.8721)">23,9</div>
<div class="t" style="left:978.14px;top:593.55px;font-size:45.20px;transform:scale(0.9783,1.2273)">+</div>
<div class="t" style="left:1004.96px;top:595.94px;font-size:45.20px;transform:scaleX(0.8444)">0,7</div>
<div class="t" style="left:50.00px;top:653.74px;font-size:45.20px;transform:scaleX(0.7538)">–</div>
<div class="t" style="left:80.09px;top:654.08px;font-size:46.10px;transform:scaleX(0.9143)">davon</div>
<div class="t" style="left:203.24px;top:654.08px;font-size:46.10px;transform:scaleX(0.9215)">Hypotheken</div>
<div class="t" style="left:662.96px;top:654.84px;font-size:45.20px;transform:scaleX(0.8471)">17,8</div>
<div class="t" style="left:978.14px;top:652.45px;font-size:45.20px;transform:scale(0.9783,1.2273)">+</div>
<div class="t" style="left:1005.52px;top:654.84px;font-size:45.20px;transform:scaleX(0.8264)">1,5</div>
<div class="t" style="left:1.00px;top:712.98px;font-size:46.10px;transform:scaleX(0.8662)">Verw. Vermögen (in Mrd. Fr.)</div>
<div class="t" style="left:662.99px;top:713.74px;font-size:45.20px;transform:scaleX(0.8352)">19,5</div>
<div class="t" style="left:1037.00px;top:712.64px;font-size:45.20px;transform:scaleX(0.7500)">–</div>
<div class="t" style="left:0.44px;top:771.88px;font-size:46.10px;transform:scaleX(0.8546)">Leverage Ratio (in %)</div>
<div class="t" style="left:684.79px;top:772.64px;font-size:45.20px;transform:scaleX(0.8109)">8,7</div>
<div class="t" style="left:1037.00px;top:771.54px;font-size:45.20px;transform:scaleX(0.7500)">–</div>
<div class="t" style="left:0.29px;top:830.78px;font-size:46.10px;transform:scaleX(0.9019)">Eigenkapitalrentabilität (in %)</div>
<div class="t" style="left:683.82px;top:831.54px;font-size:45.20px;transform:scaleX(0.8377)">9,5</div>
<div class="t" style="left:1037.00px;top:830.44px;font-size:45.20px;transform:scaleX(0.7500)">–</div>
</body></html>
